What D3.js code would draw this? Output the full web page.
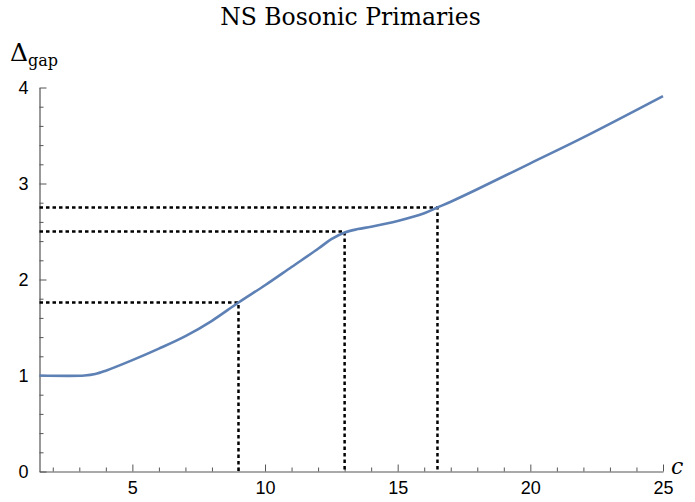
<!DOCTYPE html>
<html>
<head>
<meta charset="utf-8">
<script src="https://cdn.jsdelivr.net/npm/d3@7"></script>
<style>
  body { margin: 0; background: #fff; }
  svg text { fill: #000; }
  .serif { font-family: 'DejaVu Serif', 'Liberation Serif', serif; }
  .sans { font-family: 'Liberation Sans', Arial, sans-serif; }
</style>
</head>
<body>
<div id="chart"></div>
<script>
// curve
var cValues   = [1.5, 3.2, 3.6, 4, 5, 6, 7, 8, 9, 10, 11, 12, 12.5, 13, 13.5, 14, 15, 16, 16.5, 17, 18, 20, 22, 25];
var gapValues = [1.0, 1.0, 1.015, 1.05, 1.16, 1.28, 1.41, 1.57, 1.76, 1.94, 2.13, 2.32, 2.42, 2.49, 2.525, 2.55, 2.61, 2.69, 2.75, 2.81, 2.94, 3.21, 3.48, 3.91];

// marked points (dotted guides)
var markC   = [9, 13, 16.5];
var markGap = [1.76, 2.5, 2.75];

var xTicks = [5, 10, 15, 20, 25];
var yTicks = [0, 1, 2, 3, 4];

var W = 695, H = 502;
var margin = {top: 87.5, right: 32, bottom: 30.5, left: 39.5},
    width = W - margin.left - margin.right,
    height = H - margin.top - margin.bottom;

var x = d3.scaleLinear().domain([1.5, 25]).range([0, width]);
var y = d3.scaleLinear().domain([0, 4]).range([height, 0]);

var svg = d3.select("#chart").append("svg")
    .attr("width", W)
    .attr("height", H);

svg.append("text")
    .attr("class", "serif")
    .attr("x", W / 2 + 3)
    .attr("y", 25)
    .attr("text-anchor", "middle")
    .style("font-size", "23.5px")
    .text("NS Bosonic Primaries");

var g = svg.append("g")
    .attr("transform", "translate(" + margin.left + "," + margin.top + ")");

var axisColor = "#555";

// minor ticks
var xMinor = d3.range(2, 25.01, 1).filter(function(d){ return d % 5 !== 0; });
var yMinor = d3.range(0, 4.01, 0.2).filter(function(d){ return Math.abs(d - Math.round(d)) > 1e-6; });

g.append("g")
    .attr("transform", "translate(0," + height + ")")
    .call(d3.axisBottom(x).tickValues(xMinor).tickSize(-4).tickFormat(""))
    .call(function(s){ s.select(".domain").remove(); s.selectAll("line").attr("stroke", axisColor); });

g.append("g")
    .call(d3.axisLeft(y).tickValues(yMinor).tickSize(-4).tickFormat(""))
    .call(function(s){ s.select(".domain").remove(); s.selectAll("line").attr("stroke", axisColor); });

// major axes
var xAxis = g.append("g")
    .attr("transform", "translate(0," + height + ")")
    .call(d3.axisBottom(x).tickValues(xTicks).tickFormat(d3.format("d"))
        .tickSize(-7).tickSizeOuter(0).tickPadding(10));

var yAxis = g.append("g")
    .call(d3.axisLeft(y).tickValues(yTicks).tickFormat(d3.format("d"))
        .tickSize(-7).tickSizeOuter(0).tickPadding(11));

[xAxis, yAxis].forEach(function(a){
    a.attr("font-family", null).attr("font-size", null);
    a.select(".domain").attr("stroke", axisColor).attr("stroke-width", 1.2);
    a.selectAll("line").attr("stroke", axisColor);
    a.selectAll("text")
        .attr("class", "sans")
        .style("font-size", "18px")
        .attr("fill", "#000");
});

// dotted guides
markC.forEach(function(c, i){
    g.append("path")
        .attr("d", "M" + x(1.5) + "," + y(markGap[i]) + "H" + x(c) + "V" + y(0))
        .attr("fill", "none")
        .attr("stroke", "#000")
        .attr("stroke-width", 2.5)
        .attr("stroke-dasharray", "3.5,3");
});

var pts = cValues.map(function(c, i){ return [c, gapValues[i]]; });
var line = d3.line()
    .x(function(d){ return x(d[0]); })
    .y(function(d){ return y(d[1]); })
    .curve(d3.curveCatmullRom.alpha(0.5));

g.append("path")
    .datum(pts)
    .attr("fill", "none")
    .attr("stroke", "#5e81b5")
    .attr("stroke-width", 2.6)
    .attr("d", line);

// axis labels
var yl = svg.append("text")
    .attr("class", "serif")
    .attr("x", 10)
    .attr("y", 61);
yl.append("tspan").style("font-size", "25px").text("Δ");
yl.append("tspan").style("font-size", "16px").attr("dy", 5).text("gap");

svg.append("text")
    .attr("class", "serif")
    .attr("x", 671)
    .attr("y", 474)
    .style("font-style", "italic")
    .style("font-size", "22px")
    .text("c");
</script>
</body>
</html>
